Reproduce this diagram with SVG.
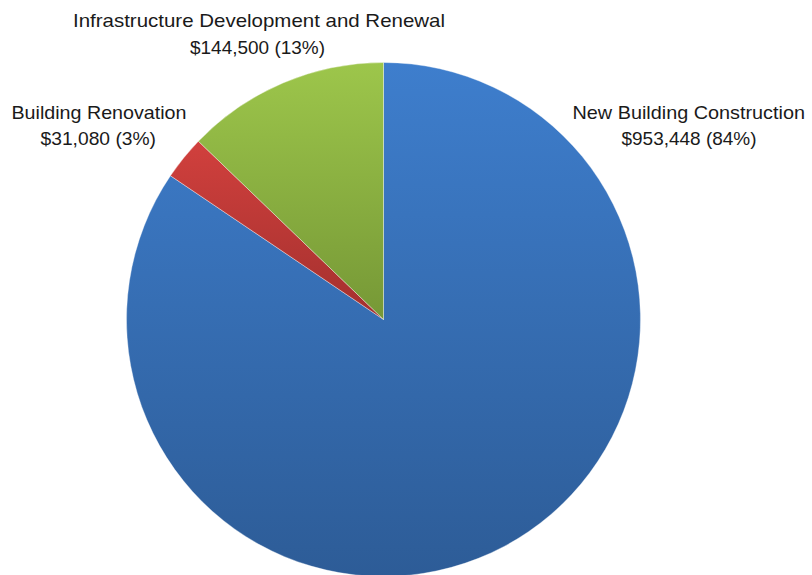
<svg xmlns="http://www.w3.org/2000/svg" width="812" height="575" viewBox="0 0 812 575">
  <defs>
    <linearGradient id="gBlue" x1="0" y1="0" x2="0" y2="1">
      <stop offset="0" stop-color="#3e7ecd"/>
      <stop offset="1" stop-color="#2d5c97"/>
    </linearGradient>
    <linearGradient id="gRed" x1="0" y1="0" x2="0" y2="1">
      <stop offset="0" stop-color="#d1403d"/>
      <stop offset="1" stop-color="#a3302e"/>
    </linearGradient>
    <linearGradient id="gGreen" x1="0" y1="0" x2="0" y2="1">
      <stop offset="0" stop-color="#9dc64b"/>
      <stop offset="1" stop-color="#769836"/>
    </linearGradient>
  </defs>
  <style>
    .slice { stroke: #ffffff; stroke-width: 0.6; stroke-opacity: 0.6; stroke-linejoin: round; }
    .lbl { font-family: "Liberation Sans", Arial, sans-serif; font-size: 18.5px; fill: #1a1a1a; }
  </style>
  <rect width="812" height="575" fill="#ffffff"/>
  <g id="connectors"></g>
  <g id="slice-new-building">
    <path class="slice" fill="url(#gBlue)" d="M383.5,319.5 L383.5,62.5 A257,257 0 1 1 170.46,175.74 Z"/>
  </g>
  <g id="slice-renovation">
    <path class="slice" fill="url(#gRed)" d="M383.5,319.5 L170.46,175.74 A257,257 0 0 1 198.40,141.21 Z"/>
  </g>
  <g id="slice-infrastructure">
    <path class="slice" fill="url(#gGreen)" d="M383.5,319.5 L198.40,141.21 A257,257 0 0 1 383.5,62.5 Z"/>
  </g>
  <g id="label-infrastructure">
    <text class="lbl" x="73" y="27" textLength="372" lengthAdjust="spacingAndGlyphs">Infrastructure Development and Renewal</text>
    <text class="lbl" x="190" y="53.5" textLength="135" lengthAdjust="spacingAndGlyphs">$144,500 (13%)</text>
  </g>
  <g id="label-renovation">
    <text class="lbl" x="11.5" y="118.5" textLength="175" lengthAdjust="spacingAndGlyphs">Building Renovation</text>
    <text class="lbl" x="40.5" y="145" textLength="115.5" lengthAdjust="spacingAndGlyphs">$31,080 (3%)</text>
  </g>
  <g id="label-new-building">
    <text class="lbl" x="572.5" y="118.5" textLength="232.5" lengthAdjust="spacingAndGlyphs">New Building Construction</text>
    <text class="lbl" x="621.5" y="145" textLength="135" lengthAdjust="spacingAndGlyphs">$953,448 (84%)</text>
  </g>
</svg>
